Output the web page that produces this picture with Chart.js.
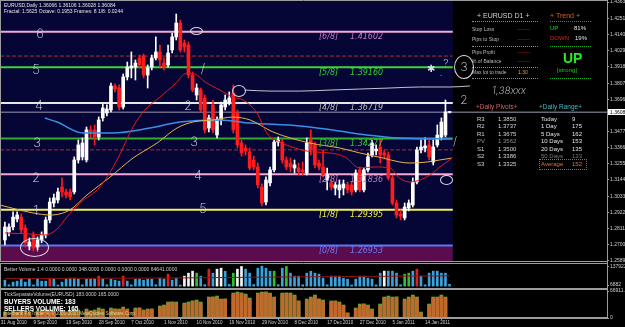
<!DOCTYPE html>
<html><head><meta charset="utf-8">
<script src="https://cdn.jsdelivr.net/npm/chart.js@4.4.1/dist/chart.umd.min.js"></script>
<style>
html,body{margin:0;padding:0;background:#000;}
#root{position:relative;width:625px;height:327px;overflow:hidden;background:#000;font-family:"Liberation Sans",Arial,sans-serif;}
canvas{position:absolute;left:0;}
.t{position:absolute;white-space:nowrap;line-height:1;transform:translateY(-50%);}
.hand{position:absolute;white-space:nowrap;line-height:1;transform:translate(-50%,-50%);color:#dcdce8;font-family:Inter,"DejaVu Sans",sans-serif;font-weight:200;}
.ell{position:absolute;border:1px solid #d8d8e4;border-radius:50%;box-sizing:border-box;}
.dot{position:absolute;height:0;border-top:1px dotted #8a8a8a;}
</style></head>
<body><div id="root">
<canvas id="cA" width="625" height="263" style="top:0px"></canvas>
<canvas id="cB" width="625" height="36" style="top:258px"></canvas>
<canvas id="cC" width="625" height="43" style="top:284px"></canvas>
<div id="ov"></div>
</div>
<script>
// ---------------- DATA ----------------
const open = [
1.2733,1.2788,1.2822,1.2877,1.2890,1.2815,1.2692,1.2767,1.2685,1.2733,
1.2767,1.2870,1.2986,1.3007,1.3096,1.3062,1.3062,1.3062,1.3281,1.3302,
1.3281,1.3487,1.3487,1.3439,1.3569,1.3603,1.3624,1.3788,1.3774,1.3644,
1.3850,1.3911,1.3918,1.3980,1.3993,1.3863,1.3918,1.3980,1.4021,1.3945,
1.3932,1.4035,1.4124,1.4219,1.4082,1.4069,1.3863,1.3726,1.3761,1.3706,
1.3500,1.3658,1.3452,1.3555,1.3644,1.3678,1.3740,1.3603,1.3397,1.3363,
1.3336,1.3281,1.3233,1.3096,1.2993,1.3124,1.3213,1.3404,1.3404,1.3281,
1.3260,1.3226,1.3226,1.3213,1.3192,1.3418,1.3384,1.3260,1.3233,1.3144,
1.3124,1.3089,1.3076,1.3089,1.3110,1.3110,1.3076,1.3213,1.3076,1.3213,
1.3315,1.3343,1.3370,1.3329,1.3315,1.3158,1.2986,1.2911,1.2884,1.2952,
1.2973,1.3130,1.3350,1.3363,1.3384,1.3267,1.3384,1.3439,1.3452,1.36066];
const high = [
1.2856,1.2843,1.2925,1.2925,1.2911,1.2836,1.2747,1.2788,1.2754,1.2788,
1.2890,1.3021,1.3048,1.3089,1.3158,1.3082,1.3082,1.3302,1.3418,1.3432,
1.3507,1.3514,1.3521,1.3576,1.3665,1.3658,1.3808,1.3802,1.3795,1.3870,
1.3952,1.4021,1.3966,1.4000,1.4007,1.3932,1.4000,1.4124,1.4069,1.3980,
1.4069,1.4151,1.4281,1.4240,1.4103,1.4089,1.3884,1.3802,1.3774,1.3726,
1.3589,1.3692,1.3576,1.3678,1.3726,1.3747,1.3795,1.3624,1.3418,1.3384,
1.3363,1.3308,1.3260,1.3117,1.3165,1.3233,1.3418,1.3439,1.3425,1.3302,
1.3295,1.3281,1.3260,1.3267,1.3432,1.3487,1.3404,1.3281,1.3350,1.3226,
1.3144,1.3130,1.3144,1.3144,1.3130,1.3130,1.3213,1.3233,1.3226,1.3329,
1.3418,1.3384,1.3418,1.3350,1.3336,1.3178,1.3007,1.2939,1.2986,1.3007,
1.3158,1.3370,1.3418,1.3432,1.3418,1.3418,1.3521,1.3569,1.3692,1.36106];
const low = [
1.2699,1.2760,1.2802,1.2856,1.2781,1.2685,1.2665,1.2658,1.2665,1.2713,
1.2747,1.2850,1.2959,1.2986,1.3028,1.3021,1.3007,1.3048,1.3260,1.3281,
1.3267,1.3432,1.3384,1.3418,1.3548,1.3582,1.3610,1.3747,1.3624,1.3630,
1.3829,1.3843,1.3829,1.3911,1.3843,1.3774,1.3898,1.3966,1.3918,1.3898,
1.3918,1.4014,1.4103,1.4021,1.4021,1.3843,1.3747,1.3692,1.3610,1.3466,
1.3473,1.3466,1.3432,1.3521,1.3624,1.3658,1.3466,1.3363,1.3308,1.3315,
1.3213,1.3213,1.3089,1.2966,1.2973,1.3103,1.3199,1.3377,1.3260,1.3213,
1.3199,1.3192,1.3178,1.3178,1.3178,1.3315,1.3226,1.3213,1.3165,1.3076,
1.3076,1.3041,1.3021,1.3041,1.3055,1.3041,1.3062,1.3062,1.3062,1.3199,
1.3302,1.3315,1.3260,1.3295,1.3144,1.2973,1.2884,1.2870,1.2870,1.2932,
1.2959,1.3117,1.3329,1.3336,1.3281,1.3247,1.3370,1.3418,1.3439,1.36028];
const close = [
1.2822,1.2822,1.2890,1.2904,1.2802,1.2713,1.2719,1.2678,1.2733,1.2767,
1.2870,1.2993,1.3021,1.3062,1.3062,1.3041,1.3028,1.3281,1.3384,1.3397,
1.3487,1.3466,1.3439,1.3555,1.3637,1.3630,1.3788,1.3767,1.3644,1.3850,
1.3918,1.3925,1.3945,1.3932,1.3863,1.3911,1.3980,1.4021,1.3966,1.3911,
1.4014,1.4124,1.4219,1.4035,1.4055,1.3863,1.3761,1.3774,1.3624,1.3487,
1.3569,1.3487,1.3555,1.3658,1.3692,1.3706,1.3487,1.3384,1.3329,1.3343,
1.3226,1.3233,1.3110,1.2986,1.3144,1.3213,1.3404,1.3418,1.3281,1.3233,
1.3233,1.3247,1.3199,1.3199,1.3397,1.3350,1.3247,1.3233,1.3178,1.3178,
1.3096,1.3110,1.3110,1.3117,1.3076,1.3062,1.3192,1.3076,1.3213,1.3302,
1.3397,1.3356,1.3315,1.3315,1.3158,1.2986,1.2904,1.2897,1.2959,1.2986,
1.3130,1.3350,1.3370,1.3377,1.3302,1.3370,1.3452,1.3541,1.3610,1.36084];

// moving averages (bar position, price)
const redMAIdx = [0,6.2,9.8,12.8,15.2,18.4,23.3,27.5,31.4,34.3,38,41.7,44.6,46.6,49.1,52.7,55.9,58.4,61.8,64.2,67.4,71.1,75.5,79.7,83.4,87,90.7,94.4,96.7,99.3,101.7,104.2,106.6,109.6];
const redMAVal = [1.2781,1.2774,1.2767,1.2808,1.2890,1.2986,1.3096,1.3281,1.3507,1.3623,1.3712,1.3801,1.3876,1.3870,1.3815,1.3760,1.3712,1.3692,1.3603,1.3466,1.3404,1.3363,1.3336,1.3329,1.3301,1.3226,1.3233,1.3226,1.3157,1.3130,1.3144,1.3178,1.3233,1.3294];
const orangeMAIdx = [-1.2,6.9,11.1,15.9,20.1,25.8,31.4,37.3,42.2,46.1,51,55.9,60.1,65.7,74.8,82.1,87,92.7,96.8,99.3,103.5,106.6,109.6];
const orangeMAVal = [1.2972,1.2918,1.2904,1.2938,1.3041,1.3164,1.3294,1.3397,1.3500,1.3541,1.3555,1.3575,1.3555,1.3473,1.3397,1.3363,1.3329,1.3294,1.3267,1.3260,1.3267,1.3281,1.3294];
const blueMAIdx = [9.8,12.8,19.1,26.5,35.6,42.9,52.7,60.1,72.3,80.4,88.7,96.8,109.6];
const blueMAVal = [1.3568,1.3541,1.3466,1.3466,1.3500,1.3541,1.3555,1.3534,1.3514,1.3486,1.3452,1.3431,1.3425];
const handLineIdx = [58.8,65,72.3,79.7,87,94.4,101.7,109.1,114];
const handLineVal = [1.3760,1.3753,1.3753,1.3760,1.3767,1.3774,1.3781,1.3781,1.3788];

const murreyNames = ['[6/8]','[5/8]','[4/8]','[3/8]','[2/8]','[1/8]','[0/8]'];
const murreyLevels = [1.41602,1.39160,1.36719,1.34277,1.31836,1.29395,1.26953];
const dashLevels = [1.3993,1.3350];
const bidPrice = 1.36084;
const priceTicks = [1.4363,1.4251,1.4140,1.4029,1.3918,1.3807,1.3696,1.3477,1.3366,1.3255,1.3144,1.3033,1.2922,1.2811,1.2700,1.2589];

const betterVolume = [
41400,9100,27600,34500,48300,27600,48300,8200,48300,34500,
34500,55200,48300,7600,27600,48300,55200,55200,48300,8800,
48300,48300,48300,69000,48300,9300,48300,41400,34500,69000,
34500,8500,48300,48300,41400,48300,48300,9600,55200,48300,
82800,41400,55200,6882,69000,89700,103500,89700,69000,10200,
117300,89700,117300,124200,103500,11500,89700,117300,136000,117300,
89700,10800,124200,137922,124200,103500,103500,9900,124200,136000,
89700,69000,69000,9400,89700,103500,89700,82800,55200,8700,
69000,69000,69000,55200,48300,7900,48300,69000,69000,55200,
48300,8300,89700,103500,103500,103500,89700,9000,82800,89700,
103500,117300,69000,8600,89700,103500,103500,89700,89700,12000];
// N normal, U climax up, D climax down, C churn
const betterVolumeType = ("NNNNNNNNNN"+"NUNNNNNNNN"+"NNNUNNNNNU"+"NNNNNNNNNN"+"UNNNDDDCNN"+
  "UNDDNNCDDN"+"NNNNNNCNNC"+"NNNNNNNNNN"+"NNNNNNNNNN"+"NNNDNNNNCC"+"NUNNNNNNNN").split('');
const betterVolMAIdx = [0,40,72,109];
const betterVolMAVal = [52000,56000,64000,71000];
const betterVolTicks = [137922,6882];

const buyersVolume = [
14880,1800,17360,14880,19840,17360,14880,1800,17360,19840,
22320,19840,17360,1800,19840,14880,17360,22320,19840,1800,
22320,17360,19840,24800,22320,1800,24800,22320,22320,27280,
22320,1800,24800,24800,19840,22320,22320,1800,29760,32240,
39680,39680,39680,1800,37200,39680,42160,44640,39680,1800,
52080,52080,54560,47120,47120,1800,62000,64480,62000,59520,
49600,1800,62000,64480,64480,62000,52080,1800,62000,62000,
62000,57040,42160,1800,47120,52080,57040,47120,44640,1800,
42160,42160,39680,32240,12400,1800,24800,34720,34720,32240,
22320,1800,34720,52080,54560,52080,52080,1800,47120,52080,
57040,52080,14880,1800,34720,52080,52080,57040,52080,1800];
const sellersVolume = [
12400,1800,14880,14880,17360,14880,12400,1800,14880,17360,
19840,19840,14880,1800,17360,14880,14880,19840,17360,1800,
19840,17360,17360,22320,19840,1800,22320,22320,19840,24800,
19840,1800,22320,24800,17360,19840,22320,1800,27280,29760,
37200,39680,37200,1800,34720,37200,42160,42160,37200,1800,
49600,52080,52080,44640,47120,1800,59520,62000,62000,57040,
47120,1800,59520,62000,64480,59520,49600,1800,59520,62000,
59520,54560,42160,1800,44640,49600,54560,47120,42160,1800,
39680,42160,37200,29760,12400,1800,22320,32240,34720,29760,
19840,1800,32240,49600,52080,49600,52080,1800,44640,49600,
54560,49600,12400,1800,32240,49600,49600,54560,49600,1800];
const tickVolTicks = [66911.2,0];

const dateTickIdx = [-1,7,15,23,31,39,47,55,63,71,79,87,95,103];
const dateLabels = ['31 Aug 2010','9 Sep 2010','19 Sep 2010','28 Sep 2010','7 Oct 2010','1 Nov 2010','10 Nov 2010','19 Nov 2010','29 Nov 2010','8 Dec 2010','17 Dec 2010','27 Dec 2010','5 Jan 2011','14 Jan 2011'];

const pivotNames = ['R3','R2','R1','PV','S1','S2','S3'];
const pivotValues = ['1.3850','1.3737','1.3675','1.3562','1.3500','1.3386','1.3325'];
const rangeNames = ['Today','1 Day','5 Days','10 Days','20 Days','50 Days','Average'];
const rangeValues = ['9','175','162','153','135','133','152'];

// ---------------- STYLE ----------------
const X_MIN = -1.2, X_MAX = 147.6, NAVY_END = 109.8;
const murreyStyle = [
 {line:'#f4a9d4', text:'#c878c8'},{line:'#3ad63a', text:'#34d234'},{line:'#e6e6e6', text:'#bdbdbd'},
 {line:'#2fae2f', text:'#34c834'},{line:'#f4a9d4', text:'#c878c8'},{line:'#f2f25e', text:'#f0f04a'},
 {line:'#5b78f2', text:'#6c7cff'}];
const bvColors = {N:'#3aa2dc', U:'#e01e1e', D:'#f4f4f4', C:'#2ec02e'};

Chart.defaults.font.family = '"Liberation Sans", Arial, sans-serif';
Chart.defaults.animation = false;
Chart.defaults.responsive = false;
Chart.defaults.events = [];
Chart.defaults.plugins.legend.display = false;
Chart.defaults.plugins.tooltip.enabled = false;

const panelPlugin = {
  id: 'panel',
  beforeDraw(chart, args, opts) {
    const {ctx, chartArea: a, scales} = chart;
    ctx.save();
    ctx.fillStyle = '#000';
    ctx.fillRect(a.left, a.top, a.right - a.left, a.bottom - a.top);
    if (opts.navy) {
      const xe = scales.x.getPixelForValue(NAVY_END);
      ctx.fillStyle = opts.navy;
      ctx.fillRect(a.left, a.top, xe - a.left, a.bottom - a.top);
    }
    ctx.restore();
  },
  afterDraw(chart) {
    const {ctx, chartArea: a} = chart;
    ctx.save();
    ctx.strokeStyle = '#9c9c9c';
    ctx.lineWidth = 1;
    ctx.beginPath();
    ctx.moveTo(0, Math.round(a.top) + 0.5); ctx.lineTo(a.right, Math.round(a.top) + 0.5);
    ctx.moveTo(0, Math.round(a.bottom) - 0.5); ctx.lineTo(a.right, Math.round(a.bottom) - 0.5);
    ctx.moveTo(0.5, a.top); ctx.lineTo(0.5, a.bottom);
    ctx.stroke();
    ctx.restore();
  }
};
Chart.register(panelPlugin);

const xScale = () => ({type:'linear', min:X_MIN, max:X_MAX, display:false, offset:false});
const fitY = (w) => (s) => { s.width = w; s.paddingTop = 0; s.paddingBottom = 0; };
const yAxisStyle = (ticksArr, fmt, min, max) => ({
  position:'right', min, max,
  afterFit: fitY(18),
  afterBuildTicks: (s) => { s.ticks = ticksArr.map(v => ({value:v})); },
  ticks:{autoSkip:false, callback:(v)=>fmt(v), color:'#cfcfcf', font:{size:5}, padding:1},
  grid:{display:true, drawOnChartArea:false, tickLength:2, color:'#9c9c9c'},
  border:{display:true, color:'#9c9c9c'}
});
const lineDs = (pts, color, width, extra) => Object.assign({type:'line', data:pts, borderColor:color, borderWidth:width, pointRadius:0, fill:false, tension:0}, extra || {});
const seg = (y, x0, x1) => [{x:x0, y}, {x:x1, y}];
const pts = (xs, ys) => xs.map((x, k) => ({x, y:ys[k]}));

// ---------------- MAIN CHART ----------------
const idx = open.map((_, i) => i);
const candleColors = idx.map(i => close[i] >= open[i] ? '#ffffff' : '#ff1c1c');
const dsA = [];
dsA.push(lineDs(seg(murreyLevels[6], X_MIN, NAVY_END), 'rgba(0,0,0,0)', 0, {fill:'start', backgroundColor:'#5b0c4c', order:30}));
murreyLevels.forEach((lv, k) => dsA.push(lineDs(seg(lv, X_MIN, NAVY_END), murreyStyle[k].line, 2, {order:20})));
dashLevels.forEach(lv => dsA.push(lineDs(seg(lv, X_MIN, NAVY_END), '#a83424', 1, {borderDash:[4,2], order:19})));
dsA.push(lineDs(seg(bidPrice, X_MIN, X_MAX), '#9c9cb0', 1, {order:19}));
dsA.push(lineDs(pts(handLineIdx, handLineVal), '#c4c4d2', 1, {order:18, cubicInterpolationMode:'monotone'}));
dsA.push({type:'bar', data: idx.map(i => ({x:i, y:[low[i], high[i]]})), backgroundColor:candleColors, barThickness:1, grouped:false, borderWidth:0, order:10});
dsA.push({type:'bar', data: idx.map(i => ({x:i, y:[open[i], close[i]]})), backgroundColor:candleColors, barThickness:3, grouped:false, borderWidth:0, minBarLength:1, order:9});
dsA.push(lineDs(pts(blueMAIdx, blueMAVal), '#3a8ee8', 1.5, {order:3, cubicInterpolationMode:'monotone'}));
dsA.push(lineDs(pts(orangeMAIdx, orangeMAVal), '#e8b448', 1, {order:2, cubicInterpolationMode:'monotone'}));
dsA.push(lineDs(pts(redMAIdx, redMAVal), '#e4181c', 1, {order:1, cubicInterpolationMode:'monotone'}));

const chartA = new Chart(document.getElementById('cA'), {
  type:'bar',
  data:{datasets:dsA},
  options:{
    layout:{padding:{left:0, right:0, top:0, bottom:1}},
    scales:{x:xScale(), y:yAxisStyle(priceTicks, v => v.toFixed(5), 1.2582, 1.4377)},
    plugins:{panel:{navy:'#050536'}}
  }
});

// ---------------- BETTER VOLUME ----------------
const chartB = new Chart(document.getElementById('cB'), {
  type:'bar',
  data:{datasets:[
    {type:'bar', data: idx.map(i => ({x:i, y:betterVolume[i]})), backgroundColor: idx.map(i => bvColors[betterVolumeType[i]]), barThickness:2, grouped:false, borderWidth:0, order:5},
    lineDs(pts(betterVolMAIdx, betterVolMAVal), '#8e1414', 1, {order:1})
  ]},
  options:{
    layout:{padding:{left:0, right:0, top:5, bottom:5}},
    scales:{x:xScale(), y:yAxisStyle(betterVolTicks, v => String(v), -20000, 160000)},
    plugins:{panel:{}}
  }
});

// ---------------- TICK SEPARATE VOLUME ----------------
const chartC = new Chart(document.getElementById('cC'), {
  type:'bar',
  data:{datasets:[
    {type:'bar', data: idx.map(i => ({x:i, y:buyersVolume[i]})), backgroundColor:'#52b03c', barThickness:3, grouped:false, borderWidth:0, order:5},
    {type:'bar', data: idx.map(i => ({x:i, y:sellersVolume[i]})), backgroundColor:'#bf6a2c', barThickness:3, grouped:false, borderWidth:0, order:4}
  ]},
  options:{
    layout:{padding:{left:0, right:0, top:5, bottom:0}},
    scales:{
      x:{type:'linear', min:X_MIN, max:X_MAX, offset:false, position:'bottom',
         afterFit:(s)=>{ s.height = 9; s.paddingLeft = 0; s.paddingRight = 0; },
         afterBuildTicks:(s)=>{ s.ticks = dateTickIdx.map(v => ({value:v})); },
         ticks:{autoSkip:false, maxRotation:0, minRotation:0, align:'start', padding:0, color:'#cfcfcf', font:{size:4.6}, callback:(v, k) => dateLabels[k]},
         grid:{display:true, drawOnChartArea:false, tickLength:2, color:'#9c9c9c'},
         border:{display:true, color:'#9c9c9c'}},
      y:yAxisStyle(tickVolTicks, v => String(v), 0, 72000)
    },
    plugins:{panel:{}}
  }
});

// ---------------- TEXT OVERLAY ----------------
const ov = document.getElementById('ov');
function txt(x, y, s, css) {
  const d = document.createElement('div');
  d.className = 't';
  d.style.left = x + 'px'; d.style.top = y + 'px';
  d.style.cssText += css || '';
  d.textContent = s;
  ov.appendChild(d);
  return d;
}
function hand(x, y, s, size, extra) {
  const d = document.createElement('div');
  d.className = 'hand';
  d.style.left = x + 'px'; d.style.top = y + 'px'; d.style.fontSize = (size || 13) + 'px';
  d.style.cssText += extra || '';
  d.textContent = s;
  ov.appendChild(d);
}
function ell(x, y, w, h, rot) {
  const d = document.createElement('div');
  d.className = 'ell';
  d.style.left = x + 'px'; d.style.top = y + 'px'; d.style.width = w + 'px'; d.style.height = h + 'px';
  if (rot) d.style.transform = 'rotate(' + rot + 'deg)';
  ov.appendChild(d);
}
function dots(x, y, w, color) {
  const d = document.createElement('div');
  d.className = 'dot';
  d.style.left = x + 'px'; d.style.top = y + 'px'; d.style.width = w + 'px';
  if (color) d.style.borderTopColor = color;
  ov.appendChild(d);
}

// header
txt(4, 5, 'EURUSD,Daily  1.36066 1.36106 1.36028 1.36084', 'font-size:5px;color:#e4e4e4;');
txt(4, 11, 'Fractal: 1.5625   Octave: 0.1953   Frames: 8   1/8: 0.0244', 'font-size:5px;color:#e4e4e4;');

// Murrey labels
const ya = chartA.scales.y, xa = chartA.scales.x;
murreyLevels.forEach((lv, k) => {
  const y = ya.getPixelForValue(lv) + 5.5;
  const x = xa.getPixelForValue(77);
  const st = 'font-size:8px;font-style:italic;font-family:"DejaVu Sans",sans-serif;color:' + murreyStyle[k].text + ';';
  txt(x, y, murreyNames[k], st);
  txt(x + 31, y, lv.toFixed(5), st);
});

// current price box
txt(608, ya.getPixelForValue(bidPrice), bidPrice.toFixed(5), 'font-size:5px;color:#000;background:#fff;padding:0.5px 2px;width:14px;');

// info panel
txt(477, 15, '+ EURUSD D1 +', 'font-size:7px;color:#cfd0e0;');
dots(472, 21, 66);
const infoRows = [['Stop Loss',29],['Pips to Stop',39],['Pips Profit',52],['% of Balance',61]];
infoRows.forEach(r => { txt(472, r[1], r[0], 'font-size:5px;color:#b8b8b8;'); txt(517, r[1], '--------', 'font-size:5px;color:#c02020;'); });
dots(472, 46, 66); dots(472, 67, 66);
txt(472, 72, 'Max lot to trade', 'font-size:5px;color:#b8b8b8;');
txt(518, 72, '1.30', 'font-size:5px;color:#e0a040;');
dots(472, 78, 66);
txt(550, 15, '+  Trend  +', 'font-size:7px;color:#e05c14;');
dots(550, 21, 41, '#c05010');
txt(550, 28, 'UP', 'font-size:6px;color:#22d022;');
txt(574, 28, '81%', 'font-size:6px;color:#e4e4e4;');
txt(550, 38, 'DOWN', 'font-size:6px;color:#e02222;');
txt(575, 38, '19%', 'font-size:6px;color:#e4e4e4;');
dots(550, 46, 41, '#22b022');
txt(563, 58, 'UP', 'font-size:14px;font-weight:bold;color:#24ee24;font-family:"Liberation Sans Narrow","Liberation Sans",sans-serif;');
txt(557, 70, '[strong]', 'font-size:6px;color:#22c822;');
dots(550, 78, 41, '#22b022');

txt(476, 107, '+Daily Pivots+', 'font-size:6.5px;color:#d06464;');
txt(539, 107, '+Daily Range+', 'font-size:6.5px;color:#40b8c0;');
const rowY = [118.5,126,133.5,141,148.5,156,163.5];
pivotNames.forEach((n, k) => {
  const c = n === 'PV' ? '#8c8c8c' : '#d4d4d4';
  txt(477, rowY[k], n, 'font-size:6px;color:' + c + ';');
  txt(498, rowY[k], pivotValues[k], 'font-size:6px;color:' + c + ';');
});
rangeNames.forEach((n, k) => {
  let c = '#e4e4e4';
  if (n === '50 Days') c = '#7c7c7c';
  if (n === 'Average') c = '#e07234';
  txt(541, rowY[k], n, 'font-size:6px;color:' + c + ';');
  txt(572, rowY[k], rangeValues[k], 'font-size:6px;color:' + c + ';');
});
const avgBox = document.createElement('div');
avgBox.style.cssText = 'position:absolute;left:539px;top:159px;width:46px;height:9px;border:1px dotted #b06030;';
ov.appendChild(avgBox);

// sub panel texts
txt(4, 269, 'Better Volume 1.4 0.0000 0.0000 348.0000 0.0000 0.0000 0.0000 64641.0000', 'font-size:5px;color:#cfcfcf;');
txt(4, 294, 'TickSeparateVolume(EURUSD) 183.0000 165.0000', 'font-size:5px;color:#cfcfcf;');
txt(4, 302, 'BUYERS VOLUME: 183', 'font-size:6.5px;font-weight:bold;color:#ffffff;');
txt(4, 308.5, 'SELLERS VOLUME: 165', 'font-size:6.5px;font-weight:bold;color:#ffffff;');
txt(4, 314, 'Interbank FX Trader 4, \u00A9 2001-2010 MetaQuotes Software Corp.', 'font-size:4.6px;color:#d8d890;');

// hand-drawn annotations
hand(40, 33, '6', 13); hand(36, 69, '5', 13); hand(39, 105, '4', 13);
hand(37, 142, '3', 13); hand(36, 177, '2', 13); hand(36, 210, '1', 13);
ell(20, 238, 29, 19); hand(37, 248, '1', 11);
ell(190, 27, 13, 8); hand(203, 68, '/', 13); hand(188, 105, '2', 13);
hand(194, 141, '3', 13); hand(198, 175, '4', 13); hand(203, 208, '5', 13);
ell(232, 85, 14, 12);
hand(431, 68, '\u2731', 10); hand(446, 63, '?', 11); hand(441, 76, '\u25AA', 4);
ell(454, 55, 20, 24); hand(464, 67, '3', 12);
hand(509, 90, '1,38xxx', 10, 'font-style:italic;');
hand(464, 100, '2', 12); hand(455, 141, '/', 12);
ell(440, 175, 13, 10);
</script>
</body></html>
